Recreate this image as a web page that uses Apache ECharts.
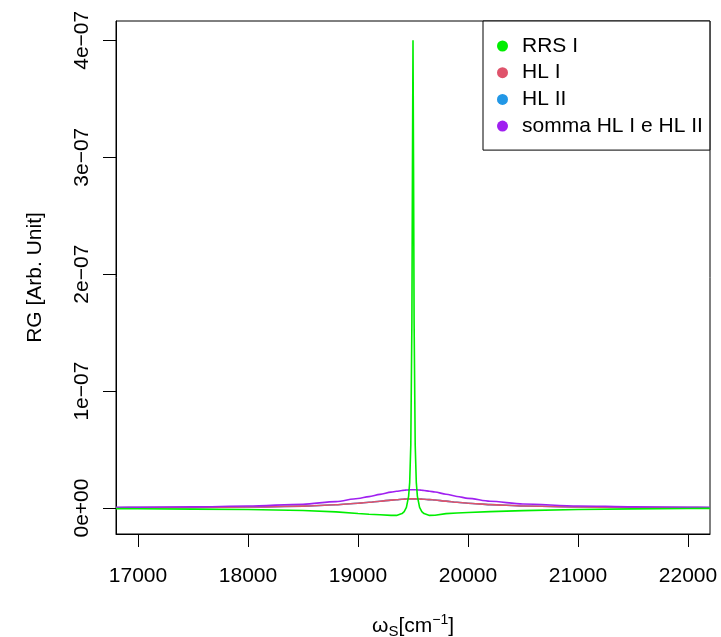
<!DOCTYPE html>
<html>
<head>
<meta charset="utf-8">
<script src="https://cdn.jsdelivr.net/npm/echarts@6/dist/echarts.min.js"></script>
<style>
  html, body { margin: 0; padding: 0; background: #fff; }
  #chart { width: 721px; height: 637px; }
</style>
</head>
<body>
<div id="chart"></div>
<script>
// wavenumber samples (cm^-1), dense around the resonance at 19500
const X_CM = [
  16800, 17000, 17500, 18000, 18500, 18800, 19000, 19100, 19200, 19300,
  19350, 19400, 19420, 19440, 19460, 19470, 19480, 19490, 19495, 19500,
  19505, 19510, 19520, 19530, 19540, 19560, 19580, 19600, 19650, 19700,
  19800, 19900, 20000, 20200, 20500, 21000, 21500, 22000, 22200,
]

// values in units of 1e-07
const RRS_I = [
  -0.005, -0.006, -0.009, -0.013, -0.021, -0.033, -0.047, -0.053, -0.058, -0.063,
  -0.063, -0.047, -0.03, 0.005, 0.1, 0.22, 0.54, 1.6, 2.9, 4.0,
  2.9, 1.6, 0.54, 0.22, 0.1, 0.005, -0.03, -0.047, -0.063, -0.062,
  -0.048, -0.042, -0.038, -0.031, -0.022, -0.012, -0.007, -0.004, -0.003,
]
const HL_I = [
  0.003, 0.0035, 0.005, 0.0085, 0.0165, 0.0275, 0.0405, 0.049, 0.0585, 0.068,
  0.0715, 0.075, 0.076, 0.077, 0.0775, 0.078, 0.078, 0.078, 0.078, 0.078,
  0.078, 0.078, 0.078, 0.078, 0.0775, 0.077, 0.076, 0.075, 0.072, 0.0685,
  0.059, 0.0495, 0.0415, 0.029, 0.0175, 0.009, 0.005, 0.0035, 0.003,
]
const HL_II = [
  0.003, 0.0035, 0.005, 0.0085, 0.0165, 0.0275, 0.0405, 0.049, 0.0585, 0.068,
  0.0715, 0.075, 0.076, 0.077, 0.0775, 0.078, 0.078, 0.078, 0.078, 0.078,
  0.078, 0.078, 0.078, 0.078, 0.0775, 0.077, 0.076, 0.075, 0.072, 0.0685,
  0.059, 0.0495, 0.0415, 0.029, 0.0175, 0.009, 0.005, 0.0035, 0.003,
]
const SOMMA = [
  0.006, 0.007, 0.01, 0.017, 0.033, 0.055, 0.081, 0.098, 0.117, 0.136,
  0.143, 0.15, 0.152, 0.154, 0.155, 0.156, 0.156, 0.156, 0.156, 0.156,
  0.156, 0.156, 0.156, 0.156, 0.155, 0.154, 0.152, 0.15, 0.144, 0.137,
  0.118, 0.099, 0.083, 0.058, 0.035, 0.018, 0.01, 0.007, 0.006,
]

const X_TICKS = [17000, 18000, 19000, 20000, 21000, 22000]
const Y_TICKS = [0, 1, 2, 3, 4]
const Y_TICK_LABELS = ["0e+00", "1e\u221207", "2e\u221207", "3e\u221207", "4e\u221207"]
const LEGEND_NAMES = ["RRS I", "HL I", "HL II", "somma HL I e HL II"]

const FONT = "Liberation Sans, Arial, Helvetica, sans-serif"
const INK = "#000"

const pairs = (ys) => X_CM.map((x, i) => [x, ys[i]])

function line(name, ys, color, smooth) {
  return {
    name,
    type: "line",
    showSymbol: false,
    symbol: "circle",
    smooth,
    smoothMonotone: "x",
    data: pairs(ys),
    lineStyle: { color, width: 1.6 },
    itemStyle: { color },
  }
}

const chart = echarts.init(document.getElementById("chart"), null, { renderer: "canvas" })

chart.setOption({
  animation: false,
  textStyle: { fontFamily: FONT, color: INK },
  grid: {
    left: 116, right: 11, top: 21, bottom: 103,
    show: true, borderColor: INK, borderWidth: 1,
    containLabel: false, outerBoundsMode: "none",
  },
  legend: {
    data: LEGEND_NAMES,
    orient: "vertical",
    left: 483,
    top: 21,
    icon: "circle",
    itemWidth: 11,
    itemHeight: 11,
    itemGap: 5.7,
    itemTextGap: 5,
    padding: [14.5, 7, 13.5, 14],
    borderColor: INK,
    borderWidth: 1,
    borderRadius: 0,
    backgroundColor: "#fff",
    textStyle: {
      fontFamily: FONT, fontSize: 21, lineHeight: 21, color: INK,
      padding: [0, 0, 0, 9],
    },
  },
  xAxis: {
    type: "value",
    min: 16800,
    max: 22200,
    name: "\u03c9{sub|S}[cm{sup|\u22121}]",
    nameLocation: "middle",
    nameGap: 79,
    nameTextStyle: {
      fontFamily: FONT, fontSize: 21, color: INK, lineHeight: 26,
      rich: {
        sub: { fontFamily: FONT, fontSize: 15, color: INK, verticalAlign: "bottom", lineHeight: 26 },
        sup: { fontFamily: FONT, fontSize: 14, color: INK, verticalAlign: "top", lineHeight: 26 },
      },
    },
    axisLine: { onZero: false, lineStyle: { color: INK, width: 1 } },
    axisTick: { customValues: X_TICKS, length: 13, lineStyle: { color: INK, width: 1 } },
    axisLabel: {
      customValues: X_TICKS,
      margin: 32,
      fontFamily: FONT, fontSize: 21, color: INK,
      formatter: (v) => String(v),
    },
    splitLine: { show: false },
  },
  yAxis: {
    type: "value",
    min: -0.222,
    max: 4.165,
    name: "RG [Arb. Unit]",
    nameLocation: "middle",
    nameGap: 70,
    nameTextStyle: { fontFamily: FONT, fontSize: 21, color: INK },
    axisLine: { onZero: false, lineStyle: { color: INK, width: 1 } },
    axisTick: { customValues: Y_TICKS, length: 13, lineStyle: { color: INK, width: 1 } },
    axisLabel: {
      customValues: Y_TICKS,
      rotate: 90,
      margin: 23,
      fontFamily: FONT, fontSize: 21, color: INK,
      formatter: (v) => Y_TICK_LABELS[Y_TICKS.indexOf(v)],
    },
    splitLine: { show: false },
  },
  series: [
    line("HL II", HL_II, "#2297E6", 0.3),
    line("HL I", HL_I, "#DF536B", 0.3),
    line("somma HL I e HL II", SOMMA, "#A020F0", 0.3),
    line("RRS I", RRS_I, "#00EE00", false),
  ],
})
</script>
</body>
</html>
